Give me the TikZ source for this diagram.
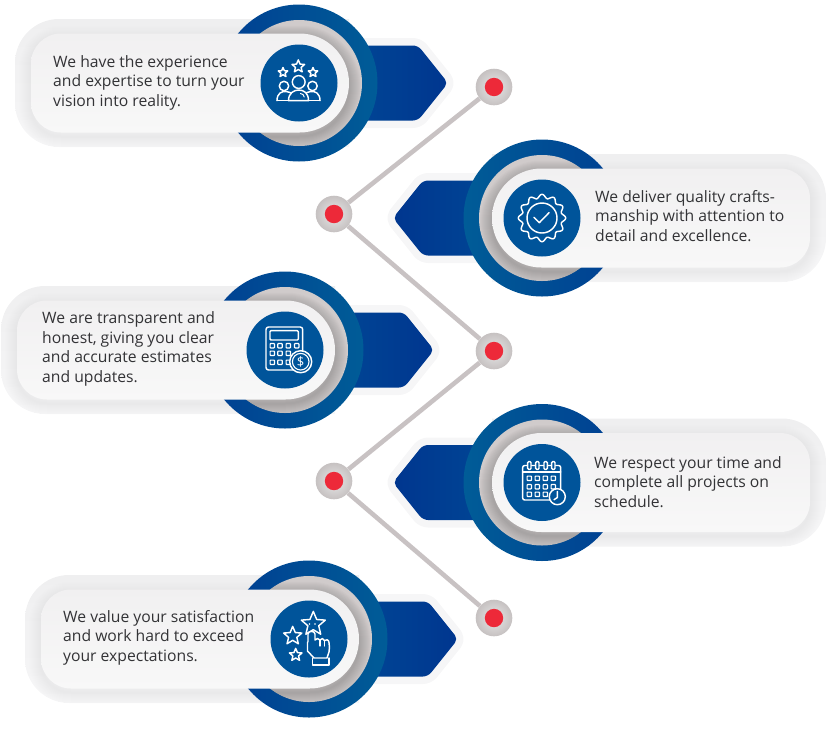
\documentclass[tikz,border=0pt]{standalone}
\usepackage{fontspec}
\setmainfont{Open Sans}
\definecolor{band}{HTML}{F6F6F7}
\definecolor{bandtop}{HTML}{EFEFF0}
\definecolor{greyring}{HTML}{D0CBCB}
\definecolor{linegrey}{HTML}{C8C2C3}
\definecolor{redc}{HTML}{ED2939}
\definecolor{txt}{HTML}{333336}
\definecolor{cardA}{HTML}{F1F0F1}
\definecolor{cardB}{HTML}{F8F8F8}
\definecolor{blueA}{HTML}{005C97}
\definecolor{blueB}{HTML}{003F92}
\definecolor{blueC}{HTML}{004E98}
\definecolor{blueD}{HTML}{00368F}
\definecolor{blueE}{HTML}{00549A}
\colorlet{dotin}{white!91!black}
\colorlet{dotout}{greyring!95!black}
\tikzset{
  x=1pt,y=-1pt,
  ringR/.style={left color=blueB,right color=blueA},
  ringL/.style={left color=blueA,right color=blueB},
  hexR/.style={left color=blueC,right color=blueD},
  hexL/.style={left color=blueD,right color=blueC},
  cardshade/.style={top color=cardA,bottom color=cardB},
  bandshade/.style={top color=bandtop,bottom color=band},
  icon/.style={draw=white,line width=1.45pt,line join=round,line cap=round},
  note/.style={anchor=west,align=left,text=txt,inner sep=0pt,font=\fontsize{15.7}{19.5}\selectfont},
  dot/.style={circle,minimum size=36.6pt,inner sep=0pt,inner color=dotin,outer color=dotout,
    path picture={\fill[redc] (path picture bounding box.center) circle (9.2pt);}},
  conn/.style={draw=linegrey,line width=4.6pt},
  dollar/.style={text=white,inner sep=0pt,font=\fontsize{13}{13}\selectfont},
}
\newcommand\cardpath{(-100,-49.5) [rounded corners=30pt] -- (-268,-49.5) -- (-268,49.5) -- (-100,49.5) [rounded corners=49.5pt] -- (50,49.5) -- (50,-49.5) -- cycle}
\newcommand\bandpath{(-100,-64) [rounded corners=44pt] -- (-284,-64) -- (-284,64) -- (-100,64) [sharp corners] -- (50,64) -- (50,-64) -- cycle}
\newcommand\hexpath{(0,-37.5) [rounded corners=5pt] -- (119,-37.5) -- (149,0) -- (119,37.5) [sharp corners] -- (0,37.5) -- cycle}
\newcommand\softshadow[1]{%
  \foreach \w in {2,4,...,24}{\draw[black,opacity=#1,line width=\w pt,shift={(0,4)}] \cardpath;}}
\newcommand\panelshape[5]{% cx cy sign ringstyle hexstyle
  \begin{scope}[shift={(#1,#2)},xscale=#3]
    \draw[band,line width=15pt,line join=round] \hexpath;
    \path[#5] \hexpath;
    \path[bandshade] \bandpath;
    \begin{scope}\clip \bandpath; \softshadow{0.004}\end{scope}
    \path[#4] (0,0) circle (78.5);
    \fill[greyring] (0,0) circle (63);
    \begin{scope}\clip (0,0) circle (63); \softshadow{0.016}\end{scope}
    \path[cardshade] \cardpath;
    \fill[blueE] (0,0) circle (38.5);
  \end{scope}}
\newcommand\istar[3]{\draw[icon,fill=blueE,shift={(#1,#2)},scale=#3] (0,-1) -- (.27,-.36) -- (.951,-.309) -- (.43,.14) -- (.588,.809) -- (0,.45) -- (-.588,.809) -- (-.43,.14) -- (-.951,-.309) -- (-.27,-.36) -- cycle;}
\begin{document}
\begin{tikzpicture}
\useasboundingbox (0,0) rectangle (827,729);
\panelshape{299}{83}{1}{ringR}{hexR}
\panelshape{542}{218}{-1}{ringL}{hexL}
\panelshape{285}{350}{1}{ringR}{hexR}
\panelshape{542}{482.5}{-1}{ringL}{hexL}
\panelshape{309}{639}{1}{ringR}{hexR}
% connectors
\node[dot] (d1) at (494,87) {};
\node[dot] (d2) at (334,214) {};
\node[dot] (d3) at (494,351) {};
\node[dot] (d4) at (334,481) {};
\node[dot] (d5) at (494,618) {};
\draw[conn] (d1) -- (d2);
\draw[conn] (d2) -- (d3);
\draw[conn] (d3) -- (d4);
\draw[conn] (d4) -- (d5);
% texts
\node[note] (t1) at (53,82.5) {We have the experience\\and expertise to turn your\\vision into reality.};
\node[note] (t2) at (595,216) {We deliver quality crafts-\\manship with attention to\\detail and excellence.};
\node[note] (t3) at (42,349) {We are transparent and\\honest, giving you clear\\and accurate estimates\\and updates.};
\node[note] (t4) at (594,482) {We respect your time and\\complete all projects on\\schedule.};
\node[note] (t5) at (63,637.5) {We value your satisfaction\\and work hard to exceed\\your expectations.};
% icon 1: people and stars
\begin{scope}[shift={(299,83)}]
  \istar{-0.7}{-16.5}{6.6}
  \istar{-16}{-10.5}{5}
  \istar{14}{-10.5}{5}
  \draw[icon] (-15,3) circle (4.7);
  \draw[icon] (13.5,3) circle (4.7);
  \draw[icon] (-22,17.7) .. controls (-22,10) and (-17,8) .. (-13,8.5) .. controls (-10,8.5) and (-8,10) .. (-7,11);
  \draw[icon] (21,17.7) .. controls (21,10) and (16,8) .. (12,8.5) .. controls (9,8.5) and (7,10) .. (6,11);
  \draw[icon] (-0.3,-1) circle (6.4);
  \draw[icon,fill=blueE] (-10.5,17.7) .. controls (-10.5,10) and (-5,7) .. (-0.3,7) .. controls (5,7) and (9.5,10) .. (9.5,17.7) -- cycle;
  \draw[icon] (-22,17.7) -- (21,17.7);
  \draw[icon,line width=1pt] (1.5,10.5) .. controls (3.5,10.8) and (5,12) .. (5.3,14);
\end{scope}
% icon 2: badge
\begin{scope}[shift={(542,218)}]
  \draw[icon] plot[domain=0:360,samples=145,smooth] ({(21.8+1.9*cos(12*\x))*cos(\x)},{(21.8+1.9*cos(12*\x))*sin(\x)}) -- cycle;
  \draw[icon] (0,0) circle (15);
  \draw[icon] (-8,-0.7) -- (-2.7,4.7) -- (7,-5.3);
\end{scope}
% icon 3: calculator
\begin{scope}[shift={(285,350)}]
  \draw[icon,rounded corners=2.5pt] (-19,-23) rectangle (17.7,20);
  \draw[icon,rounded corners=1pt] (-15,-19.3) rectangle (13.3,-10);
  \foreach \px in {-12.7,-5,3.3,11.7}{\draw[icon,line width=1.2pt,rounded corners=.6pt] (\px-2.2,-6.5) rectangle (\px+2.2,-2.1);}
  \foreach \py in {3.3,12.3}{\foreach \px in {-12.7,-5,3.3}{\draw[icon,line width=1.2pt,rounded corners=.6pt] (\px-2.2,\py-2.2) rectangle (\px+2.2,\py+2.2);}}
  \draw[icon,fill=blueE] (15.7,11.7) circle (11);
  \draw[icon,line width=1.1pt] (15.7,11.7) circle (8.3);
  \node[dollar] (coin) at (15.7,11.7) {\$};
\end{scope}
% icon 4: calendar
\begin{scope}[shift={(542,482)}]
  \draw[icon,rounded corners=2pt] (-19.3,-16.5) rectangle (18.7,18);
  \draw[icon] (-19.3,-10) -- (18.7,-10);
  \foreach \px in {-12.7,-4.7,3.7,11.3}{\draw[icon,fill=blueE,rounded corners=1.2pt] (\px-1.7,-20.5) rectangle (\px+1.7,-12.5);}
  \foreach \py in {-3.7,4.7,12.3}{\foreach \px in {-12.7,-4.7,3.3,11.3}{\draw[icon,line width=1.2pt,rounded corners=.6pt] (\px-2.2,\py-2.2) rectangle (\px+2.2,\py+2.2);}}
  \draw[icon,fill=blueE] (15.3,14.7) circle (8);
  \draw[icon] (15.3,9.5) -- (15.3,15.5) -- (12,17.7);
\end{scope}
% icon 5: stars and hand
\begin{scope}[shift={(309,639)}]
  \istar{4.3}{-15}{12.6}
  \istar{-16.3}{-3}{9.6}
  \istar{-13.3}{16}{6.6}
  \fill[white] (0.5,-15) circle (.9) (6,-15) circle (.9);
  \draw[icon,fill=blueE] (-1,-5) .. controls (-1,-8.5) and (6,-8.5) .. (6,-5) -- (6,1)
    .. controls (7,-1) and (10,-1) .. (11,1) .. controls (12,-1) and (15,-1) .. (15.5,1.5) .. controls (16.5,0) and (20,0.5) .. (20,3.5)
    .. controls (20.5,8) and (20.5,11) .. (20,13) -- (18,19) -- (5,19) -- (-1.5,12) -- (-1.5,3) -- (-1,3) -- cycle;
  \draw[icon,line width=1.1pt] (11,1) -- (11,7) (15.5,1.5) -- (15.5,7);
  \draw[icon] (3.5,19) -- (3.5,26) -- (20,26) -- (20,19);
\end{scope}
\end{tikzpicture}
\end{document}
